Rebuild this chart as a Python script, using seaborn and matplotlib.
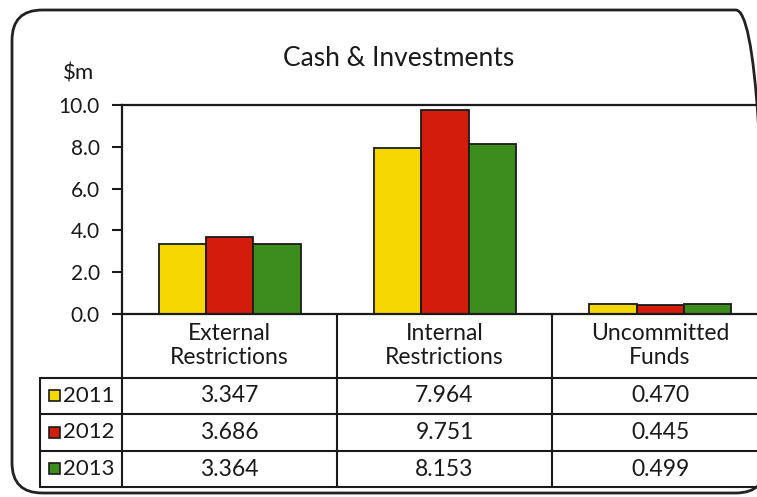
import matplotlib
matplotlib.use("Agg")
import matplotlib.pyplot as plt
import seaborn as sns
import pandas as pd
from matplotlib.patches import FancyBboxPatch, Rectangle
from matplotlib.lines import Line2D

categories = ["External\nRestrictions", "Internal\nRestrictions", "Uncommitted\nFunds"]
years = ["2011", "2012", "2013"]
values_2011 = [3.347, 7.964, 0.470]
values_2012 = [3.686, 9.751, 0.445]
values_2013 = [3.364, 8.153, 0.499]
value_labels = [["3.347", "7.964", "0.470"],
                ["3.686", "9.751", "0.445"],
                ["3.364", "8.153", "0.499"]]
colors = ["#F5D800", "#D21C0C", "#3D8C1E"]
yticks = [0, 2, 4, 6, 8, 10]

sns.set_style("white")
plt.rcParams["font.family"] = ["Lato", "DejaVu Sans"]

W, H = 757, 497
fig = plt.figure(figsize=(W / 100, H / 100), dpi=100)
fig.patch.set_facecolor("white")

def fx(px):
    return px / W

def fy(py):
    return 1 - py / H

# rounded outer box (right edge just outside the picture)
box = FancyBboxPatch((fx(12), fy(493)), fx(766) - fx(12), fy(10) - fy(493),
                     boxstyle="round,pad=0,rounding_size=0.04",
                     transform=fig.transFigure, fill=False, edgecolor="#222222",
                     linewidth=2.0, mutation_aspect=W / H)
fig.patches.append(box)

# main axes
L, R, T, B = 122, 768, 105, 314
ax = fig.add_axes([fx(L), fy(B), fx(R) - fx(L), fy(T) - fy(B)])

rows = []
for yr, vals in zip(years, [values_2011, values_2012, values_2013]):
    for c, v in zip(categories, vals):
        rows.append({"category": c, "year": yr, "value": v})
df = pd.DataFrame(rows)

sns.barplot(data=df, x="category", y="value", hue="year", palette=colors,
            width=0.66, edgecolor="#1a1a1a", linewidth=1.3, ax=ax, legend=False,
            saturation=1)
ax.set_xlim(-0.5, 2.5)
ax.set_ylim(0, 10)
ax.set_yticks(yticks)
ax.set_yticklabels([f"{t:.1f}" for t in yticks], fontsize=15, color="#1a1a1a")
ax.set_xticks([])
ax.set_xlabel("")
ax.set_ylabel("")
ax.tick_params(axis="y", direction="out", length=7, width=1.5, color="#1a1a1a", pad=9, left=True)
for side in ["left", "top", "bottom"]:
    ax.spines[side].set_visible(True)
    ax.spines[side].set_color("#1a1a1a")
    ax.spines[side].set_linewidth(1.6)
ax.spines["right"].set_visible(False)

fig.text(fx(399), fy(58), "Cash & Investments", ha="center", va="center",
         fontsize=19, color="#1a1a1a")
fig.text(fx(79), fy(73), "$m", ha="center", va="center", fontsize=16, color="#1a1a1a")

# table
tax = fig.add_axes([0, 0, 1, 1])
tax.set_xlim(0, W)
tax.set_ylim(H, 0)
tax.axis("off")
lw = 1.5
lc = "#1a1a1a"
col_x = [122, 337, 552, 768]
row_y = [314, 378, 414, 451, 487]
for x in col_x:
    tax.add_line(Line2D([x, x], [314, 487], color=lc, lw=lw))
tax.add_line(Line2D([40, 40], [378, 487], color=lc, lw=lw))
for y in row_y[1:]:
    tax.add_line(Line2D([40, 768], [y, y], color=lc, lw=lw))

fs = 16.5
for i, cat in enumerate(categories):
    cx = (col_x[i] + col_x[i + 1]) / 2
    l1, l2 = cat.split("\n")
    tax.text(cx, 333, l1, ha="center", va="center", fontsize=fs, color="#1a1a1a")
    tax.text(cx, 358, l2, ha="center", va="center", fontsize=fs, color="#1a1a1a")
    for r in range(3):
        cy = (row_y[r + 1] + row_y[r + 2]) / 2
        tax.text(cx, cy, value_labels[r][i], ha="center", va="center",
                 fontsize=fs, color="#1a1a1a")

for r, yr in enumerate(years):
    cy = (row_y[r + 1] + row_y[r + 2]) / 2
    tax.add_patch(Rectangle((49, cy - 6), 11, 11, facecolor=colors[r],
                            edgecolor="#1a1a1a", lw=1.2))
    tax.text(63, cy, yr, ha="left", va="center", fontsize=16, color="#1a1a1a")

fig.savefig("out.png", dpi=100, facecolor="white")
